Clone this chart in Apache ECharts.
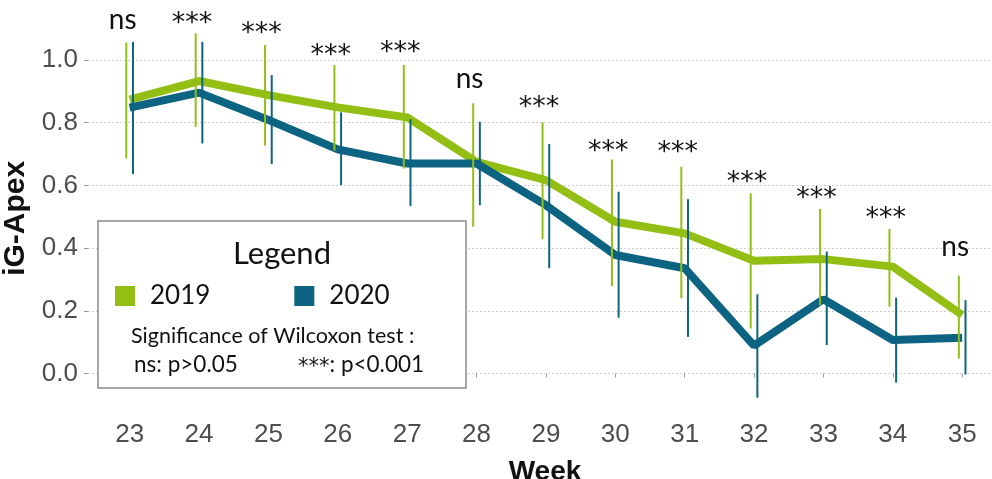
<!DOCTYPE html>
<html><head><meta charset="utf-8">
<script src="https://cdn.jsdelivr.net/npm/echarts@6/dist/echarts.min.js"></script>
<style>html,body{margin:0;padding:0;background:#fff}#c{width:992px;height:479px}</style>
</head><body><div id="c"></div>
<script>
// ---- data ----
const weeks = [23, 24, 25, 26, 27, 28, 29, 30, 31, 32, 33, 34, 35];
const mean2019 = [0.874, 0.933, 0.888, 0.849, 0.817, 0.675, 0.617, 0.484, 0.447, 0.360, 0.365, 0.341, 0.187];
const mean2020 = [0.848, 0.896, 0.809, 0.715, 0.670, 0.670, 0.537, 0.378, 0.336, 0.089, 0.237, 0.107, 0.114];
const lo2019 = [0.686, 0.787, 0.727, 0.711, 0.654, 0.468, 0.428, 0.279, 0.240, 0.144, 0.218, 0.213, 0.048];
const hi2019 = [1.056, 1.085, 1.048, 0.984, 0.984, 0.862, 0.801, 0.683, 0.660, 0.575, 0.525, 0.461, 0.312];
const lo2020 = [0.636, 0.734, 0.668, 0.601, 0.534, 0.537, 0.336, 0.178, 0.117, -0.077, 0.091, -0.029, -0.003];
const hi2020 = [1.058, 1.058, 0.952, 0.833, 0.811, 0.803, 0.732, 0.580, 0.556, 0.253, 0.389, 0.242, 0.234];
const sigLabels = ['ns', '***', '***', '***', '***', 'ns', '***', '***', '***', '***', '***', '***', 'ns'];
const sigY = [1.128, 1.134, 1.102, 1.032, 1.041, 0.939, 0.867, 0.727, 0.723, 0.627, 0.577, 0.512, 0.404];
const yTicks = [0, 0.2, 0.4, 0.6, 0.8, 1.0];
const seriesNames = ['2019', '2020'];

// ---- style ----
const GREEN = '#93bf15', BLUE = '#0d6382';
const DODGE = 0.048;

function errSeries(name, lo, hi, off, color) {
  return {
    type: 'custom', name: name, z: 5, clip: false, silent: true,
    data: weeks.map((w, i) => [w + off, lo[i], hi[i]]),
    encode: { x: 0, y: [1, 2] },
    renderItem: function (params, api) {
      const a = api.coord([api.value(0), api.value(1)]);
      const b = api.coord([api.value(0), api.value(2)]);
      return { type: 'line', shape: { x1: a[0], y1: a[1], x2: b[0], y2: b[1] },
        style: { stroke: color, lineWidth: 2 } };
    }
  };
}

const chart = echarts.init(document.getElementById('c'), null, { renderer: 'canvas' });
chart.setOption({
  animation: false,
  backgroundColor: '#ffffff',
  grid: { left: 88, right: 0, top: 22.4, bottom: 64.7, containLabel: false, outerBoundsMode: 'none' },
  xAxis: {
    type: 'value', min: 22.4, max: 35.43,
    axisLine: { show: false },
    axisTick: { show: true, length: 4, lineStyle: { color: '#999' }, customValues: weeks },
    axisLabel: { customValues: weeks, margin: 8, color: '#4d4d4d', fontSize: 26, fontFamily: 'Liberation Sans' },
    splitLine: { show: false },
    name: 'Week', nameLocation: 'middle', nameGap: 44,
    nameTextStyle: { fontFamily: 'Liberation Sans', fontWeight: 'bold', fontSize: 28, color: '#111', padding: [0, 0, 0, 10] }
  },
  yAxis: {
    type: 'value', min: -0.13, max: 1.12,
    axisLine: { show: false },
    axisTick: { show: true, length: 4, lineStyle: { color: '#999' }, customValues: yTicks },
    axisLabel: { customValues: yTicks, margin: 10, color: '#4d4d4d', fontSize: 26, fontFamily: 'Liberation Sans',
      formatter: v => v.toFixed(1) },
    splitLine: { show: true, lineStyle: { color: '#cfcfcf', type: [2, 2], width: 1 } },
    name: 'iG-Apex', nameLocation: 'middle', nameGap: 51, nameRotate: 90,
    nameTextStyle: { fontFamily: 'Liberation Sans', fontWeight: 'bold', fontSize: 30, color: '#111' }
  },
  legend: {
    data: seriesNames, left: 115, top: 283, padding: 0, itemWidth: 20, itemHeight: 20, itemGap: 84,
    icon: 'rect', selectedMode: false, z: 200,
    textStyle: { fontFamily: 'Lato', fontSize: 26, color: '#111', padding: [0, 0, 0, 10] }
  },
  graphic: [
    { type: 'rect', x: 98, y: 221, z: 100, shape: { x: 0, y: 0, width: 368, height: 167 },
      style: { fill: '#fff', stroke: '#8a8a8a', lineWidth: 1.5 } },
    { type: 'text', x: 282, y: 254, z: 101,
      style: { text: 'Legend', font: '31px Lato', fill: '#111', align: 'center', verticalAlign: 'middle' } },
    { type: 'text', x: 131, y: 336, z: 101,
      style: { text: 'Significance of Wilcoxon test :', font: '21.5px Lato', fill: '#111', align: 'left', verticalAlign: 'middle' } },
    { type: 'text', x: 134, y: 365, z: 101,
      style: { text: 'ns: p>0.05', font: '22.5px Lato', fill: '#111', align: 'left', verticalAlign: 'middle' } },
    { type: 'text', x: 298, y: 365, z: 101,
      style: { text: '{s|***}: p<0.001', font: '22.5px Lato', fill: '#111', align: 'left', verticalAlign: 'middle',
        rich: { s: { fontFamily: 'DejaVu Sans', fontSize: 21, fill: '#111', padding: [5, 0, 0, 0] } } } }
  ],
  series: [
    { type: 'line', name: seriesNames[0], z: 3, showSymbol: false, symbol: 'none', color: GREEN,
      lineStyle: { width: 8, color: GREEN }, data: weeks.map((w, i) => [w, mean2019[i]]) },
    { type: 'line', name: seriesNames[1], z: 4, showSymbol: false, symbol: 'none', color: BLUE,
      lineStyle: { width: 8, color: BLUE }, data: weeks.map((w, i) => [w, mean2020[i]]) },
    errSeries('err2019', lo2019, hi2019, -DODGE, GREEN),
    errSeries('err2020', lo2020, hi2020, DODGE, BLUE),
    {
      type: 'custom', name: 'sig', z: 6, clip: false, silent: true,
      data: weeks.map((w, i) => [w - 0.1, sigY[i], i]),
      encode: { x: 0, y: 1 },
      renderItem: function (params, api) {
        const i = api.value(2);
        const p = api.coord([api.value(0), api.value(1)]);
        const lab = sigLabels[i];
        const star = lab === '***';
        return { type: 'text', x: p[0], y: p[1] + (star ? 6 : 0),
          style: { text: lab, font: star ? '27px "DejaVu Sans"' : '28px Lato', fill: '#111',
            align: 'center', verticalAlign: 'middle' } };
      }
    }
  ]
});
</script>
</body></html>
